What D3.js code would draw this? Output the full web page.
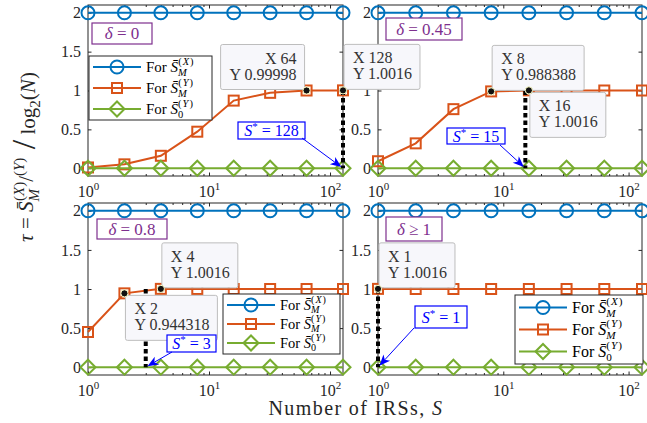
<!DOCTYPE html>
<html>
<head>
<meta charset="utf-8">
<script src="https://cdn.jsdelivr.net/npm/d3@7"></script>
<style>
  body { margin: 0; background: #fff; }
  text { font-family: "Liberation Serif", "DejaVu Serif", serif; }
</style>
</head>
<body>
<div id="chart"></div>
<script>
// figure size
const W = 647, H = 423;

// data
const S_VALUES = [1, 2, 4, 8, 16, 32, 64, 128];
const SMX = [2, 2, 2, 2, 2, 2, 2, 2];
const S0Y = [0, 0, 0, 0, 0, 0, 0, 0];
const SMY_D0 = [0.01, 0.05, 0.16, 0.47, 0.87, 0.97, 0.99998, 1.0016];
const SMY_D045 = [0.09, 0.32, 0.76, 0.988388, 1.0016, 1, 1, 1];
const SMY_D08 = [0.45, 0.944318, 1.0016, 1, 1, 1, 1, 1];
const SMY_D1 = [1.0016, 1, 1, 1, 1, 1, 1, 1];
const DELTA_TEXT = ["0", "0.45", "0.8", "1"];
const DELTA_REL = ["=", "=", "=", "\u2265"];
const S_STAR = [128, 15, 3, 1];
const TIPS_D0 = [[64, 0.99998], [128, 1.0016]];
const TIPS_D045 = [[8, 0.988388], [16, 1.0016]];
const TIPS_D08 = [[2, 0.944318], [4, 1.0016]];
const TIPS_D1 = [[1, 1.0016]];
const X_TICKS = [1, 10, 100];
const Y_TICKS = [0, 0.5, 1, 1.5, 2];

const BLUE = "#0072BD", ORANGE = "#D95319", GREEN = "#77AC30", PURPLE = "#7E2F8E";

const svg = d3.select("#chart").append("svg")
  .attr("width", W).attr("height", H);

// panel layout
const panels = [
  {x0: 88, x1: 343, y0: 5, y1: 176, smy: SMY_D0, k: 0, tips: TIPS_D0,
   corners: ["br", "bl"], delta: [92, 23, 60, 21], star: [238, 122, 67, 17], from: [302, 138],
   legend: {x: 89, y: 56, w: 123, h: 64, fs: 15, pitch: 21}},
  {x0: 378, x1: 642, y0: 5, y1: 176, smy: SMY_D045, k: 1, tips: TIPS_D045,
   corners: ["bl", "tl"], delta: [386, 18, 76, 22], star: [447, 128, 58, 16], from: [500, 145],
   legend: null},
  {x0: 88, x1: 343, y0: 203, y1: 375, smy: SMY_D08, k: 2, tips: TIPS_D08,
   corners: ["tl", "bl"], delta: [97, 219, 70, 20], star: [167, 335, 49, 17], from: [172, 352],
   legend: {x: 223, y: 294, w: 117, h: 60, fs: 14.5, pitch: 19}},
  {x0: 378, x1: 642, y0: 203, y1: 375, smy: SMY_D1, k: 3, tips: TIPS_D1,
   corners: ["bl"], delta: [386, 217, 56, 24], star: [415, 306, 52, 22], from: [414, 328],
   legend: {x: 515, y: 295, w: 128, h: 69, fs: 16, pitch: 22}}
];

function marker(g, type, cx, cy, color) {
  if (type === "o") {
    g.append("circle").attr("cx", cx).attr("cy", cy).attr("r", 6.5)
      .attr("fill", "none").attr("stroke", color).attr("stroke-width", 2);
  } else if (type === "s") {
    g.append("rect").attr("x", cx - 5).attr("y", cy - 5).attr("width", 10).attr("height", 10)
      .attr("fill", "none").attr("stroke", color).attr("stroke-width", 2);
  } else {
    g.append("path").attr("d", `M${cx - 7.5},${cy}L${cx},${cy - 7.5}L${cx + 7.5},${cy}L${cx},${cy + 7.5}Z`)
      .attr("fill", "none").attr("stroke", color).attr("stroke-width", 2);
  }
}

function supLabel(sel) {
  sel.each(function(d) {
    const t = d3.select(this).text("");
    t.append("tspan").text("10");
    t.append("tspan").attr("dy", -7).attr("font-size", 11).text(Math.round(Math.log10(d)));
  });
}

// S-bar with sub M / 0 and superscript (X)/(Y)
function sBar(t, fs, sub, sup) {
  t.append("tspan").attr("font-style", "italic").text("S\u0304");
  const sfs = fs * 0.7;
  t.append("tspan").attr("dy", fs * 0.25).attr("font-size", sfs)
    .attr("font-style", sub === "M" ? "italic" : "normal").text(sub);
  const back = sub === "M" ? sfs * 0.83 : sfs * 0.5;
  t.append("tspan").attr("dx", -back).attr("dy", -fs * 0.7).attr("font-size", sfs)
    .attr("letter-spacing", 1).text("(")
    .append("tspan").attr("font-style", "italic").text(sup);
  t.append("tspan").attr("font-size", sfs).text(")");
}

const base = svg.append("g");
const over = svg.append("g");

panels.forEach(p => {
  const x = d3.scaleLog().domain([1, 128]).range([p.x0, p.x1]);
  const y = d3.scaleLinear().domain([-0.1, 2.1]).range([p.y1, p.y0]);
  p.xs = x; p.ys = y;
  const g = base.append("g");

  const minor = [];
  X_TICKS.forEach(m => { for (let j = 2; j <= 9; j++) if (m * j < 128) minor.push(m * j); });

  // axes, ticks pointing inward
  const bx = g.append("g").attr("transform", `translate(0,${p.y1})`)
    .call(d3.axisBottom(x).tickValues(X_TICKS).tickSizeInner(-3.5).tickSizeOuter(0).tickPadding(10));
  bx.selectAll(".tick text").attr("font-size", 16).attr("font-family", "Liberation Serif").attr("fill", "#262626").call(supLabel);
  g.append("g").attr("transform", `translate(0,${p.y1})`)
    .call(d3.axisBottom(x).tickValues(minor).tickSizeInner(-2).tickSizeOuter(0).tickFormat(""));
  g.append("g").attr("transform", `translate(0,${p.y0})`)
    .call(d3.axisTop(x).tickValues(X_TICKS).tickSizeInner(-3.5).tickSizeOuter(0).tickFormat(""));
  g.append("g").attr("transform", `translate(0,${p.y0})`)
    .call(d3.axisTop(x).tickValues(minor).tickSizeInner(-2).tickSizeOuter(0).tickFormat(""));
  const ly = g.append("g").attr("transform", `translate(${p.x0},0)`)
    .call(d3.axisLeft(y).tickValues(Y_TICKS).tickSizeInner(-3.5).tickSizeOuter(0).tickPadding(7).tickFormat(d3.format("")));
  ly.selectAll(".tick text").attr("font-size", 16).attr("font-family", "Liberation Serif").attr("fill", "#262626");
  g.append("g").attr("transform", `translate(${p.x1},0)`)
    .call(d3.axisRight(y).tickValues(Y_TICKS).tickSizeInner(-3.5).tickSizeOuter(0).tickFormat(""));
  g.selectAll(".domain").remove();
  g.selectAll(".tick line").attr("stroke", "#262626");
  g.append("rect").attr("x", p.x0).attr("y", p.y0).attr("width", p.x1 - p.x0).attr("height", p.y1 - p.y0)
    .attr("fill", "none").attr("stroke", "#262626").attr("stroke-width", 1);

  // series
  const series = [[SMX, BLUE, "o"], [p.smy, ORANGE, "s"], [S0Y, GREEN, "d"]];
  const line = d3.line().x(d => x(d[0])).y(d => y(d[1]));
  series.forEach(([vals, col, m]) => {
    const pts = S_VALUES.map((s, i) => [s, vals[i]]);
    g.append("path").attr("d", line(pts)).attr("fill", "none").attr("stroke", col).attr("stroke-width", 2);
    pts.forEach(d => marker(g, m, x(d[0]), y(d[1]), col));
  });

  // S* dotted line
  const sx = x(S_STAR[p.k]);
  g.append("line").attr("x1", sx).attr("x2", sx).attr("y1", y(1)).attr("y2", y(0))
    .attr("stroke", "#000").attr("stroke-width", 4).attr("stroke-dasharray", "4.5,3");
});

// overlays: delta boxes, legends, data tips, S* annotations
panels.forEach(p => {
  const g = over.append("g");
  const x = p.xs, y = p.ys;

  // delta box
  const [dx, dy, dw, dh] = p.delta;
  g.append("rect").attr("x", dx).attr("y", dy).attr("width", dw).attr("height", dh)
    .attr("fill", "#fff").attr("stroke", PURPLE).attr("stroke-width", 1.2);
  const dt = g.append("text").attr("x", dx + dw / 2).attr("y", dy + dh / 2 + 5.5)
    .attr("text-anchor", "middle").attr("font-size", 17).attr("fill", PURPLE);
  dt.append("tspan").attr("font-style", "italic").text("\u03b4");
  dt.append("tspan").text(` ${DELTA_REL[p.k]} ${DELTA_TEXT[p.k]}`);

  // legend
  if (p.legend) {
    const L = p.legend;
    const lg = g.append("g");
    lg.append("rect").attr("x", L.x).attr("y", L.y).attr("width", L.w).attr("height", L.h)
      .attr("fill", "#fff").attr("stroke", "#262626").attr("stroke-width", 1);
    const entries = [[BLUE, "o", "M", "X"], [ORANGE, "s", "M", "Y"], [GREEN, "d", "0", "Y"]];
    const top = L.y + (L.h - 3 * L.pitch) / 2 + L.pitch / 2;
    entries.forEach(([col, m, sub, sup], i) => {
      const cy = top + i * L.pitch;
      lg.append("line").attr("x1", L.x + 4).attr("x2", L.x + 52).attr("y1", cy).attr("y2", cy)
        .attr("stroke", col).attr("stroke-width", 2);
      marker(lg, m, L.x + 28, cy, col);
      const t = lg.append("text").attr("x", L.x + 57).attr("y", cy + L.fs * 0.32)
        .attr("font-size", L.fs).attr("fill", "#000");
      t.append("tspan").text("For ");
      sBar(t, L.fs, sub, sup);
    });
  }

  // data tips
  p.tips.forEach((tp, i) => {
    const px = x(tp[0]), py = y(tp[1]);
    const corner = p.corners[i];
    const tg = g.append("g");
    const rect = tg.append("rect");
    const t = tg.append("text").attr("font-size", 16).attr("fill", "#333");
    const l1 = t.append("tspan").text(`X ${tp[0]}`);
    const l2 = t.append("tspan").text(`Y ${tp[1]}`);
    const w = Math.max(l1.node().getComputedTextLength(), l2.node().getComputedTextLength()) + 17;
    const h = 45;
    const bx = corner === "br" ? px - w - 2 : px + 1;
    const by = corner[0] === "b" ? py - h - 1 : py + 2;
    rect.attr("x", bx).attr("y", by).attr("width", w).attr("height", h).attr("rx", 2)
      .attr("fill", "#f7f7fb").attr("stroke", "#bdbdbd").attr("stroke-width", 1);
    if (corner === "br") {
      t.attr("text-anchor", "end");
      l1.attr("x", bx + w - 8).attr("y", by + 19);
      l2.attr("x", bx + w - 8).attr("y", by + 35);
    } else {
      l1.attr("x", bx + 9).attr("y", by + 19);
      l2.attr("x", bx + 9).attr("y", by + 35);
    }
    g.append("circle").attr("cx", px).attr("cy", py).attr("r", 3.6)
      .attr("fill", "#111").attr("stroke", "#ffffc8").attr("stroke-width", 1);
  });

  // S* annotation with arrow
  const [sxb, syb, sw, sh] = p.star;
  g.append("rect").attr("x", sxb).attr("y", syb).attr("width", sw).attr("height", sh)
    .attr("fill", "#fff").attr("stroke", "#0000ff").attr("stroke-width", 1.2);
  const st = g.append("text").attr("x", sxb + sw / 2).attr("y", syb + sh / 2 + 5.5)
    .attr("text-anchor", "middle").attr("font-size", 16).attr("fill", "#0000ff");
  st.append("tspan").attr("font-style", "italic").text("S");
  st.append("tspan").attr("dy", -6).attr("font-size", 11).text("*");
  st.append("tspan").attr("dy", 6).text(` = ${S_STAR[p.k]}`);

  const tx = x(S_STAR[p.k]), ty = y(0);
  const [fx, fy] = p.from;
  const ang = Math.atan2(ty - fy, tx - fx);
  const ex = tx - 2 * Math.cos(ang), ey = ty - 2 * Math.sin(ang);
  const L = 11, hw = 4.5, back = 8;
  const ux = Math.cos(ang), uy = Math.sin(ang);
  g.append("line").attr("x1", fx).attr("y1", fy).attr("x2", ex - back * ux).attr("y2", ey - back * uy)
    .attr("stroke", "#0000ff").attr("stroke-width", 1);
  const bxp = ex - L * ux, byp = ey - L * uy;
  g.append("path")
    .attr("d", `M${ex},${ey}L${bxp - hw * uy},${byp + hw * ux}L${ex - back * ux},${ey - back * uy}L${bxp + hw * uy},${byp - hw * ux}Z`)
    .attr("fill", "#0000ff");
});

// axis labels
const xl = svg.append("text").attr("x", 356).attr("y", 415).attr("text-anchor", "middle")
  .attr("font-size", 20).attr("letter-spacing", 1.4).attr("fill", "#262626");
xl.append("tspan").text("Number of IRSs, ");
xl.append("tspan").attr("font-style", "italic").text("S");

const yl = svg.append("text").attr("transform", "translate(33,157) rotate(-90)")
  .attr("text-anchor", "middle").attr("font-size", 21).attr("fill", "#262626");
yl.append("tspan").attr("font-style", "italic").text("\u03c4");
yl.append("tspan").text(" = ");
yl.append("tspan").attr("font-style", "italic").text("S\u0304");
yl.append("tspan").attr("dy", 6).attr("font-size", 15).attr("font-style", "italic").text("M");
yl.append("tspan").attr("dx", -12).attr("dy", -15).attr("font-size", 15).text("(")
  .append("tspan").attr("font-style", "italic").text("X");
yl.append("tspan").attr("font-size", 15).text(")");
yl.append("tspan").attr("dy", 9).text("/");
yl.append("tspan").attr("dy", -9).attr("font-size", 15).text("(")
  .append("tspan").attr("font-style", "italic").text("Y");
yl.append("tspan").attr("font-size", 15).text(")");
yl.append("tspan").attr("dy", 11).attr("font-size", 34).text(" /");
yl.append("tspan").text(" log");
yl.append("tspan").attr("dy", 5).attr("font-size", 15).text("2");
yl.append("tspan").attr("dy", -5).text("(");
yl.append("tspan").attr("font-style", "italic").text("N");
yl.append("tspan").text(")");
</script>
</body>
</html>
